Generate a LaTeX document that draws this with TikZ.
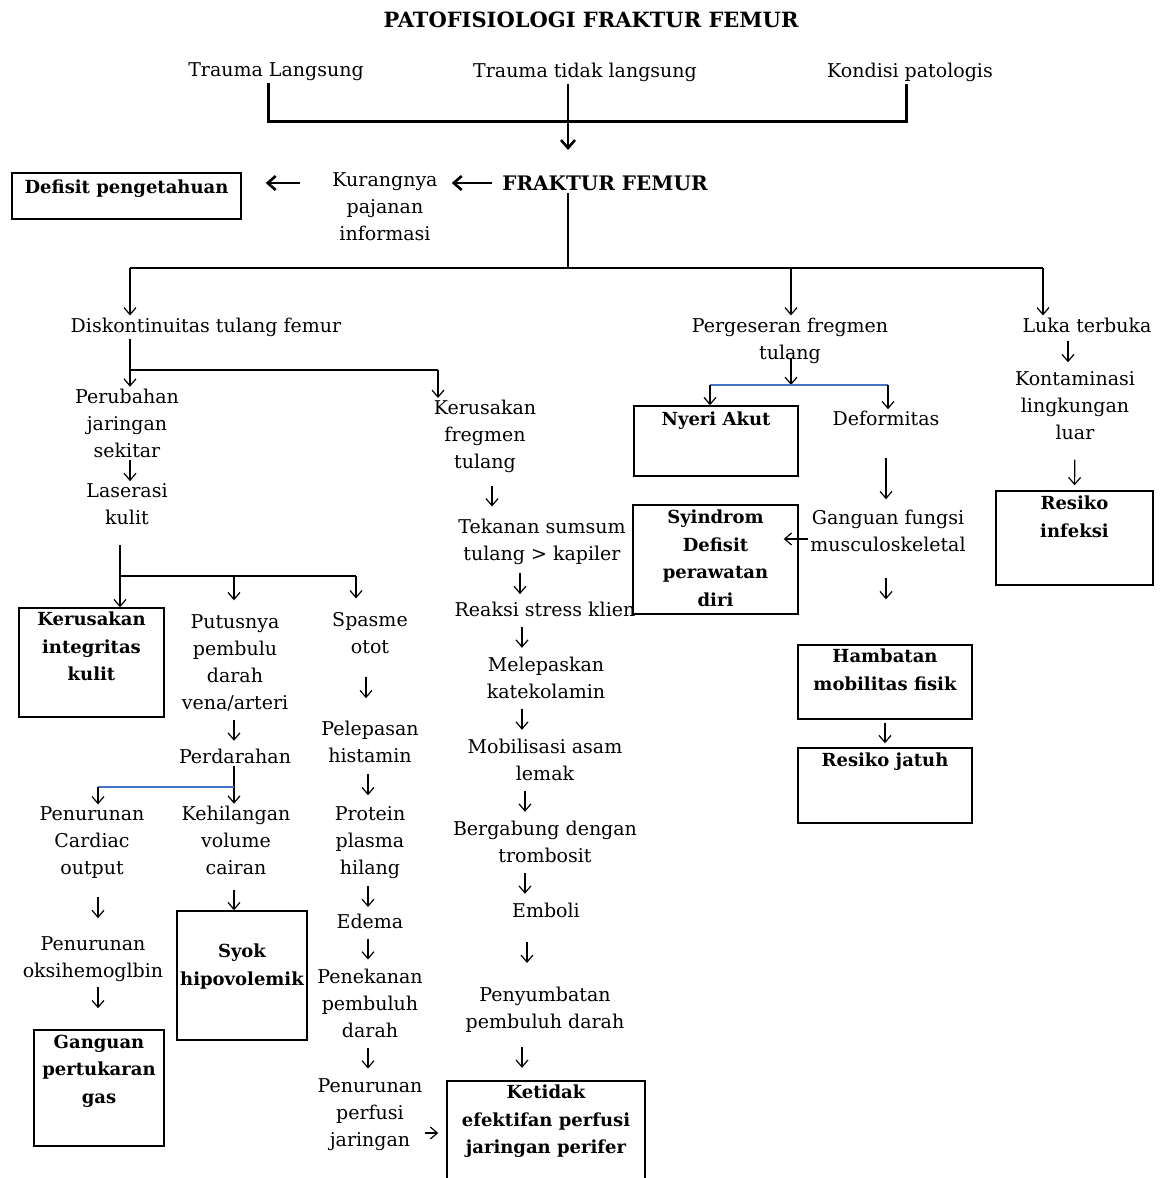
\documentclass[tikz,border=0pt]{standalone}
\usepackage{fontspec}
\setmainfont{DejaVu Serif}
\usetikzlibrary{arrows.meta,calc}
\definecolor{wordblue}{RGB}{68,114,196}
\newcommand{\boxtext}[4]{\parbox[c][#2pt][t]{#1pt}{\centering\vspace*{#3pt}#4}}
\newcommand{\darr}[3]{%
  \path (#1.south -| #3,0) coordinate (tmpa) (#2.north -| #3,0) coordinate (tmpb);
  \draw[arr] ($(tmpa)!0.5!(tmpb)+(0,-10.5)$) -- ++(0,21);}
\begin{document}
\begin{tikzpicture}[x=1pt,y=-1pt,
  txt/.style={font=\fontsize{19}{27}\selectfont, align=center, inner sep=2pt},
  bx/.style={draw, line width=1.4pt, inner sep=0pt, font=\bfseries\fontsize{18}{27.5}\selectfont},
  arr/.style={line width=1.2pt, -{Straight Barb[length=7pt,width=12pt]}},
  ln/.style={line width=1.2pt},
  bl/.style={line width=1.3pt, draw=wordblue},
  thk/.style={line width=3pt},
  tharr/.style={line width=2.6pt, -{Straight Barb[length=8pt,width=14pt]}}]
\useasboundingbox (0,0) rectangle (1166,1178);

% ---------- title and causes
\node[txt, font=\bfseries\fontsize{21}{25}\selectfont] (title) at (591,20) {PATOFISIOLOGI FRAKTUR FEMUR};
\node[txt] (tl) at (276,72) {Trauma Langsung};
\node[txt] (ttl) at (585,72) {Trauma tidak langsung};
\node[txt] (kp) at (910,72) {Kondisi patologis};

\node[txt, font=\bfseries\fontsize{20}{25}\selectfont] (ff) at (605,183) {FRAKTUR FEMUR};
\node[txt] (kur) at (385,207) {Kurangnya\\pajanan\\informasi};
\node[bx] (dp) at (126.5,196) {\boxtext{229}{46}{7}{Defisit pengetahuan}};

% ---------- level 2
\node[txt] (dis) at (206,327) {Diskontinuitas tulang femur};
\node[txt] (per) at (790,340.5) {Pergeseran fregmen\\tulang};
\node[txt] (luka) at (1087,325) {Luka terbuka};

% ---------- left branch
\node[txt] (perub) at (127,423.3) {Perubahan\\jaringan\\sekitar};
\node[txt] (laser) at (127,504.3) {Laserasi\\kulit};
\node[bx] (kik) at (91.5,662.5) {\boxtext{145}{109}{4}{Kerusakan\\integritas\\kulit}};
\node[txt] (put) at (235,662.8) {Putusnya\\pembulu\\darah\\vena/arteri};
\node[txt] (spa) at (370,633.3) {Spasme\\otot};
\node[txt] (perd) at (235,756.8) {Perdarahan};
\node[txt] (pel) at (370,742.3) {Pelepasan\\histamin};
\node[txt] (pc) at (92,842.5) {Penurunan\\Cardiac\\output};
\node[txt] (keh) at (236,840.3) {Kehilangan\\volume\\cairan};
\node[txt] (pro) at (370,842.5) {Protein\\plasma\\hilang};
\node[txt] (po) at (93,959.5) {Penurunan\\oksihemoglbin};
\node[bx] (syok) at (242,975.5) {\boxtext{130}{129}{33}{Syok\\hipovolemik}};
\node[bx] (gpg) at (99,1088) {\boxtext{130}{116}{5}{Ganguan\\pertukaran\\gas}};
\node[txt] (ede) at (370,921.8) {Edema};
\node[txt] (pen) at (370,1003.3) {Penekanan\\pembuluh\\darah};
\node[txt] (pp) at (370,1114.5) {Penurunan\\perfusi\\jaringan};

% ---------- middle branch
\node[txt] (kerf) at (485,436.5) {Kerusakan\\fregmen\\tulang};
\node[txt] (tek) at (542,542) {Tekanan sumsum\\tulang > kapiler};
\node[txt] (reak) at (545,609.8) {Reaksi stress klien};
\node[txt] (mel) at (546,678.3) {Melepaskan\\katekolamin};
\node[txt] (mob) at (545,760.3) {Mobilisasi asam\\lemak};
\node[txt] (berg) at (545,842.3) {Bergabung dengan\\trombosit};
\node[txt] (emb) at (546,910.8) {Emboli};
\node[txt] (peny) at (545,1009.5) {Penyumbatan\\pembuluh darah};
\node[bx] (ket) at (546,1133) {\boxtext{198}{104}{4}{Ketidak\\efektifan perfusi\\jaringan perifer}};

% ---------- right branch
\node[bx] (nyeri) at (716,441) {\boxtext{164}{70}{6}{Nyeri Akut}};
\node[txt] (def) at (886,418.8) {Deformitas};
\node[txt] (gf) at (888,531.3) {Ganguan fungsi\\musculoskeletal};
\node[bx] (syn) at (715.5,559.5) {\boxtext{165}{109}{5}{Syindrom\\Defisit\\perawatan\\diri}};
\node[bx] (ham) at (885,682) {\boxtext{174}{74}{4}{Hambatan\\mobilitas fisik}};
\node[bx] (rj) at (885,785.5) {\boxtext{174}{75}{5}{Resiko jatuh}};
\node[txt] (kon) at (1075,405.3) {Kontaminasi\\lingkungan\\luar};
\node[bx] (ri) at (1074.5,538) {\boxtext{157}{94}{5}{Resiko\\infeksi}};

% ---------- helper coordinates
\coordinate (cbar) at (0,121);
\coordinate (ctip) at (568,150);
\coordinate (hbar) at (0,268);
\coordinate (dbar) at (0,370);
\coordinate (lbar) at (0,576);
\coordinate (rbar) at (0,385);
\coordinate (pbar) at (0,787);
\coordinate (gy) at (0,539);

% ---------- top connectors
\draw[thk] (tl.south -| 268,0) -- (268,0 |- cbar) -- (906,0 |- cbar) -- (kp.south -| 906,0);
\draw[tharr] (ttl.south -| 568,0) -- (ctip);
\draw[tharr, shorten <=8pt, shorten >=12pt] (ff.west) -- (kur.east |- ff.west);
\draw[tharr, shorten <=30pt, shorten >=24pt] (kur.west |- ff.west) -- (dp.east |- ff.west);

\draw[ln] (ff.south -| 568,0) -- (568,0 |- hbar);
\draw[ln] (130,0 |- hbar) -- (1043,0 |- hbar);
\draw[arr] (130,0 |- hbar) -- (dis.north -| 130,0);
\draw[arr] (791,0 |- hbar) -- (per.north -| 791,0);
\draw[arr] (1043,0 |- hbar) -- (luka.north -| 1043,0);

% ---------- Diskontinuitas branch
\draw[arr] (dis.south -| 130,0) -- (perub.north -| 130,0);
\draw[ln] (130,0 |- dbar) -- (438,0 |- dbar);
\draw[arr] (438,0 |- dbar) -- (kerf.north -| 438,0);
\darr{perub}{laser}{130}
\draw[arr, shorten <=18pt] (laser.south -| 120,0) -- (kik.north -| 120,0);
\draw[ln] (120,0 |- lbar) -- (356,0 |- lbar);
\draw[arr, shorten >=12pt] (234,0 |- lbar) -- (put.north -| 234,0);
\draw[arr, shorten >=12pt] (356,0 |- lbar) -- (spa.north -| 356,0);
\darr{put}{perd}{234}
\draw[arr] (perd.south -| 234,0) -- (keh.north -| 234,0);
\draw[bl] (98,0 |- pbar) -- (234,0 |- pbar);
\draw[arr] (98,0 |- pbar) -- (pc.north -| 98,0);
\darr{pc}{po}{98}
\draw[arr] ([yshift=-3pt]po.south -| 98,0) -- ++(0,21);
\draw[arr, shorten <=13pt] (keh.south -| 234,0) -- (syok.north -| 234,0);
\darr{spa}{pel}{366}
\darr{pel}{pro}{368}
\darr{pro}{ede}{368}
\darr{ede}{pen}{368}
\darr{pen}{pp}{368}
\draw[arr, shorten >=8pt] (pp.east |- ket.west) -- (ket.west);

% ---------- middle column
\darr{kerf}{tek}{492}
\darr{tek}{reak}{520}
\darr{reak}{mel}{522}
\darr{mel}{mob}{522}
\darr{mob}{berg}{525}
\darr{berg}{emb}{525}
\darr{emb}{peny}{527}
\darr{peny}{ket}{522}

% ---------- Pergeseran branch
\draw[arr] ([yshift=8pt]per.south -| 791,0) -- (791,0 |- rbar);
\draw[bl] (710,0 |- rbar) -- (888,0 |- rbar);
\draw[arr] (710,0 |- rbar) -- (nyeri.north -| 710,0);
\draw[arr] (888,0 |- rbar) -- (def.north -| 888,0);
\draw[arr, shorten <=30pt, shorten >=9pt] (def.south -| 886,0) -- (gf.north -| 886,0);
\draw[arr] (gf.west |- gy) -- (syn.east |- gy) -- ++(-15,0);
\draw[arr] ([yshift=-24pt]gf.south -| 886,0) -- ++(0,21);
\draw[arr, shorten <=3pt, shorten >=4pt] (ham.south) -- (rj.north);

% ---------- Luka branch
\darr{luka}{kon}{1068}
\draw[arr, shorten <=18pt, shorten >=5pt] (kon.south) -- (ri.north);
\end{tikzpicture}
\end{document}
